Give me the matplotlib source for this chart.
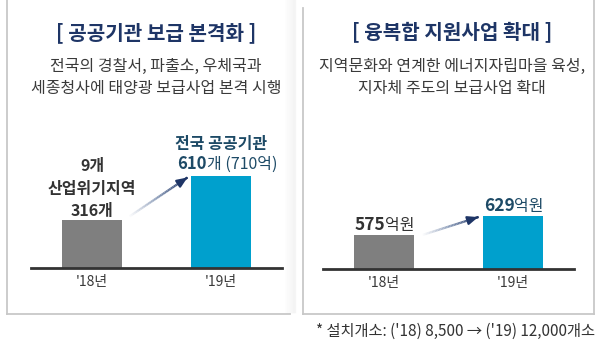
import numpy as np
import matplotlib
matplotlib.use('Agg')
import matplotlib.pyplot as plt
from matplotlib.lines import Line2D
from matplotlib.collections import LineCollection
from matplotlib.colors import LinearSegmentedColormap

plt.rcParams['font.family'] = ['Noto Sans CJK KR', 'DejaVu Sans']

# data
years = ["'18년", "'19년"]
left_vals = [316, 610]        # 산업위기지역 316개 -> 전국 공공기관 610개
right_vals = [575, 629]       # 억원
left_title = '[ 공공기관 보급 본격화 ]'
left_sub = ['전국의 경찰서, 파출소, 우체국과', '세종청사에 태양광 보급사업 본격 시행']
right_title = '[ 융복합 지원사업 확대 ]'
right_sub = ['지역문화와 연계한 에너지자립마을 육성,', '지자체 주도의 보급사업 확대']
footnote = "* 설치개소: ('18) 8,500 → ('19) 12,000개소"

GRAY = '#7f7f7f'
BLUE = '#00a0cd'
NAVY = '#1e3566'
TEAL = '#1d4a66'
TXT = '#3a3a3a'

W, H = 600, 344
fig = plt.figure(figsize=(6, 3.44), dpi=100)

def fx(px):
    return px / W

def fy(py):
    return 1 - py / H

# panel borders
border = '#c8c8c8'
for xs, ys in [([7, 7], [0, 314]), ([7, 290], [314, 314]),
               ([303, 303], [8, 314]), ([594, 594], [0, 314]), ([303, 594], [314, 314])]:
    fig.add_artist(Line2D([fx(x) for x in xs], [fy(y) for y in ys], color=border, lw=1.3))
# faint shadow on right side of left panel
for i, a in enumerate(np.linspace(0.0, 0.10, 12)):
    fig.add_artist(Line2D([fx(284 + i), fx(284 + i)], [fy(0), fy(312)], color='#b0b0b0', alpha=a, lw=1))

# titles
fig.text(fx(156), fy(33), left_title, ha='center', va='center', fontsize=14.5,
         fontweight='bold', color=NAVY)
fig.text(fx(156), fy(66), left_sub[0], ha='center', va='center', fontsize=11.5, color=TXT)
fig.text(fx(156), fy(88), left_sub[1], ha='center', va='center', fontsize=11.5, color=TXT)
fig.text(fx(452), fy(33), right_title, ha='center', va='center', fontsize=14.5,
         fontweight='bold', color=NAVY)
fig.text(fx(452), fy(66), right_sub[0], ha='center', va='center', fontsize=11.5, color=TXT)
fig.text(fx(452), fy(88), right_sub[1], ha='center', va='center', fontsize=11.5, color=TXT)
fig.text(fx(595), fy(331), footnote, ha='right', va='center', fontsize=11, color='#333333')


def make_axes(x0, base, ylim):
    ax = fig.add_axes([fx(x0), 1 - base / H, 251 / W, 148 / H])
    ax.set_xlim(-0.473, 1.473)
    ax.set_ylim(*ylim)
    for s in ['top', 'right', 'left']:
        ax.spines[s].set_visible(False)
    ax.spines['bottom'].set_color('#333333')
    ax.spines['bottom'].set_linewidth(2)
    ax.set_yticks([])
    ax.set_xticks([0, 1])
    ax.set_xticklabels(years, fontsize=10, color=TXT)
    ax.tick_params(axis='x', length=0, pad=5)
    ax.patch.set_alpha(0)
    return ax


def grad_arrow(ax, p0, p1):
    t = np.linspace(0, 1, 40)
    xs = p0[0] + (p1[0] - p0[0]) * t
    ys = p0[1] + (p1[1] - p0[1]) * t
    pts = np.array([xs, ys]).T.reshape(-1, 1, 2)
    segs = np.concatenate([pts[:-1], pts[1:]], axis=1)
    cmap = LinearSegmentedColormap.from_list('g', ['#ffffff', '#8a9bb8', NAVY])
    lc = LineCollection(segs, cmap=cmap, linewidths=1.6)
    lc.set_array(t[:-1])
    ax.add_collection(lc)
    ax.annotate('', xy=p1, xytext=(xs[-3], ys[-3]),
                arrowprops=dict(arrowstyle='-|>,head_length=0.6,head_width=0.25',
                                color=NAVY, lw=1.6))


# left chart
axl = make_axes(31, 268, (0, 981))
axl.bar([0, 1], left_vals, width=0.465, color=[GRAY, BLUE])
for off, s in [(1, f'{left_vals[0]}개'), (17, '산업위기지역'), (33, '9개')]:
    axl.annotate(s, (0, left_vals[0]), xytext=(0, off), textcoords='offset points',
                 ha='center', va='bottom', fontsize=11.5, fontweight='bold', color='#333333')
axl.annotate(f'{left_vals[1]}', (1, left_vals[1]), xytext=(-10, 2), textcoords='offset points',
             ha='right', va='bottom', fontsize=12, fontweight='bold', color=TEAL)
axl.annotate('개 (710억)', (1, left_vals[1]), xytext=(-10, 2), textcoords='offset points',
             ha='left', va='bottom', fontsize=11.5, color=TEAL)
axl.annotate('전국 공공기관', (1, left_vals[1]), xytext=(0, 17), textcoords='offset points',
             ha='center', va='bottom', fontsize=11.5, fontweight='bold', color=TEAL)
grad_arrow(axl, (0.28, left_vals[0] + 20), (0.74, left_vals[1] - 10))

# right chart
axr = make_axes(323, 269, (478, 900))
axr.bar([0, 1], right_vals, width=0.465, color=[GRAY, BLUE])
for i, v in enumerate(right_vals):
    c = '#333333' if i == 0 else TEAL
    axr.annotate(f'{v}', (i, v), xytext=(1, 1), textcoords='offset points',
                 ha='right', va='bottom', fontsize=12.5, fontweight='bold', color=c)
    axr.annotate('억원', (i, v), xytext=(1, 1), textcoords='offset points',
                 ha='left', va='bottom', fontsize=11.5, color=c)
grad_arrow(axr, (0.29, right_vals[0] - 1), (0.73, right_vals[1] - 3))

fig.savefig('out.png', dpi=100)
